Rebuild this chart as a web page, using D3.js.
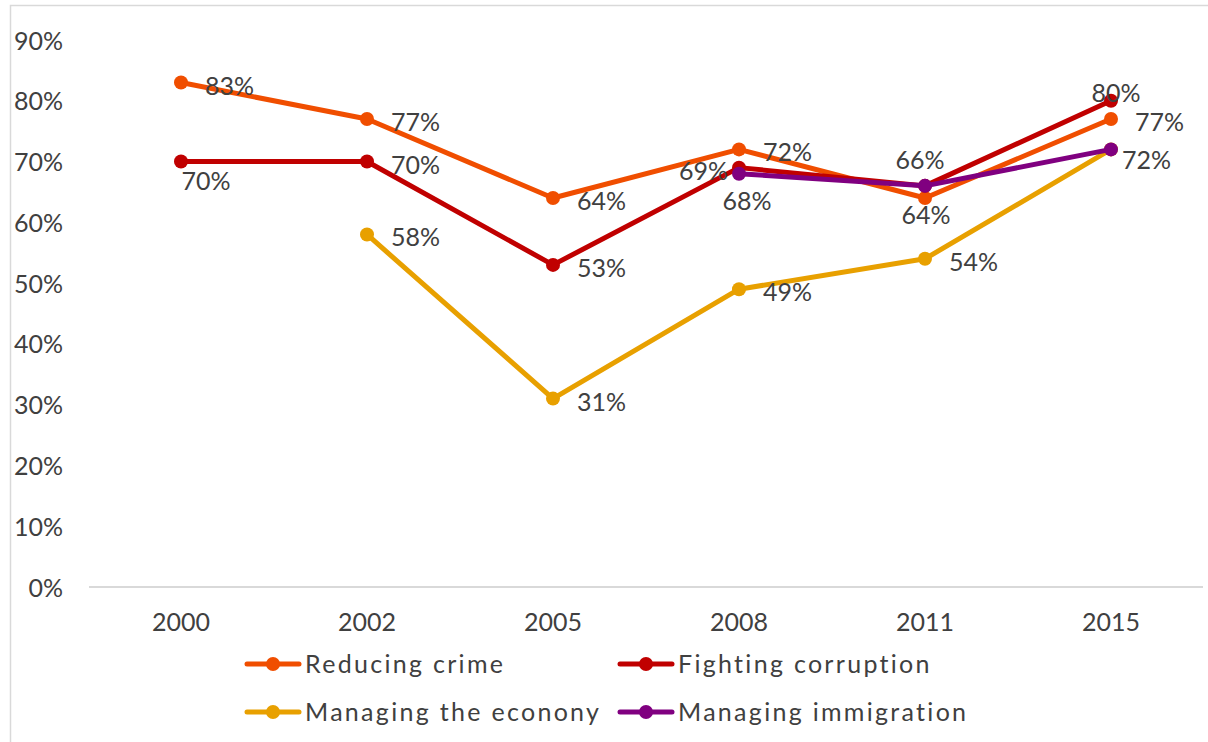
<!DOCTYPE html>
<html>
<head>
<meta charset="utf-8">
<script src="https://cdn.jsdelivr.net/npm/d3@7/dist/d3.min.js"></script>
<style>
  html, body { margin: 0; padding: 0; background: #fff; }
  svg { display: block; }
  text { font-family: Lato, "Open Sans", sans-serif; fill: #404040; }
</style>
</head>
<body>
<svg id="chart" width="1208" height="742"></svg>
<script>
// Survey years
const years = ["2000", "2002", "2005", "2008", "2011", "2015"];

// Share of respondents rating each area positively (%), null = not asked
const reducingCrime      = [83, 77, 64, 72, 64, 77];
const fightingCorruption = [70, 70, 53, 69, 66, 80];
const managingEconomy    = [null, 58, 31, 49, 54, 72];
const managingImmigration = [null, null, null, 68, 66, 72];

// Y axis ticks (%)
const yTicks = [0, 10, 20, 30, 40, 50, 60, 70, 80, 90];

// Series names shown in the legend
const seriesNames = ["Reducing crime", "Fighting corruption", "Managing the econony", "Managing immigration"];

// Where each value label sits relative to its point
// (the 2015 economy and immigration labels share one spot)
const labelPlacement = {
  "Reducing crime":       ["right", "right", "right", "right", "belowMid", "right"],
  "Fighting corruption":  ["belowRight", "right", "right", "left", "aboveMid", "aboveTop"],
  "Managing the econony": [null, "right", "right", "right", "right", "none"],
  "Managing immigration": [null, null, null, "belowLow", "none", "rightLow"]
};
const placementOffsets = {
  right:      { dx: 24,  dy: 12, anchor: "start" },
  left:       { dx: -11, dy: 12, anchor: "end" },
  belowRight: { dx: 25,  dy: 28, anchor: "middle" },
  belowMid:   { dx: 1,   dy: 26, anchor: "middle" },
  belowLow:   { dx: 8,   dy: 36, anchor: "middle" },
  aboveMid:   { dx: -5,  dy: -17, anchor: "middle" },
  aboveTop:   { dx: 5,   dy: 1,  anchor: "middle" },
  rightLow:   { dx: 11,  dy: 20, anchor: "start" }
};

const colors = {
  "Reducing crime": "#F04E00",
  "Fighting corruption": "#C00000",
  "Managing the econony": "#E8A000",
  "Managing immigration": "#800080"
};

const series = [
  { name: seriesNames[0], values: reducingCrime },
  { name: seriesNames[1], values: fightingCorruption },
  { name: seriesNames[2], values: managingEconomy },
  { name: seriesNames[3], values: managingImmigration }
];

const svg = d3.select("#chart");
const W = 1208, H = 742;

// Chart frame
svg.append("rect")
  .attr("x", 10.5).attr("y", 5.5)
  .attr("width", W + 20).attr("height", H + 20)
  .attr("fill", "#fff").attr("stroke", "#d9d9d9").attr("stroke-width", 1.5);

const plot = { left: 88, right: 1204, top: 40, bottom: 587 };

const x = d3.scaleBand().domain(years).range([plot.left, plot.right]).padding(0);
const y = d3.scaleLinear().domain([0, 90]).range([plot.bottom, plot.top]);

// Y axis labels
const yAxis = d3.axisLeft(y).tickValues(yTicks).tickFormat(d => d + "%").tickSize(0).tickPadding(0);
const yg = svg.append("g").attr("transform", "translate(63,0)").call(yAxis);
yg.select(".domain").remove();
yg.selectAll("text").attr("font-size", 25).attr("font-family", "Lato, sans-serif")
  .attr("fill", "#404040").attr("dy", "0.36em");

// X axis with category labels
const xAxis = d3.axisBottom(x).tickSize(0).tickPadding(0);
const xg = svg.append("g").attr("transform", `translate(0,${plot.bottom})`).call(xAxis);
xg.select(".domain").attr("stroke", "#d9d9d9").attr("stroke-width", 2)
  .attr("d", `M${plot.left + 1},0H${plot.right - 1}`);
xg.selectAll("text").attr("font-size", 25).attr("font-family", "Lato, sans-serif")
  .attr("fill", "#404040").attr("dy", 0).attr("y", 44);

const cx = i => x(years[i]) + x.bandwidth() / 2;

const line = d3.line()
  .defined(d => d.v !== null)
  .x(d => cx(d.i))
  .y(d => y(d.v));

const drawOrder = [2, 0, 1, 3];

drawOrder.forEach(k => {
  const s = series[k];
  const pts = s.values.map((v, i) => ({ v, i }));
  const g = svg.append("g");
  g.append("path")
    .datum(pts)
    .attr("d", line)
    .attr("fill", "none")
    .attr("stroke", colors[s.name])
    .attr("stroke-width", 5)
    .attr("stroke-linejoin", "round")
    .attr("stroke-linecap", "round");
  g.selectAll("circle")
    .data(pts.filter(d => d.v !== null))
    .join("circle")
    .attr("cx", d => cx(d.i))
    .attr("cy", d => y(d.v))
    .attr("r", 7)
    .attr("fill", colors[s.name]);
});

// Value labels
const labels = svg.append("g");
series.forEach(s => {
  s.values.forEach((v, i) => {
    const p = labelPlacement[s.name][i];
    if (v === null || !p || p === "none") return;
    const o = placementOffsets[p];
    labels.append("text")
      .attr("x", cx(i) + o.dx)
      .attr("y", y(v) + o.dy)
      .attr("text-anchor", o.anchor)
      .attr("font-size", 25)
      .text(v + "%");
  });
});

// Legend
const legendItems = [
  { name: seriesNames[0], x: 245, y: 664 },
  { name: seriesNames[1], x: 618, y: 664 },
  { name: seriesNames[2], x: 245, y: 712 },
  { name: seriesNames[3], x: 618, y: 712 }
];
const lg = svg.append("g");
legendItems.forEach(it => {
  const g = lg.append("g").attr("transform", `translate(${it.x},${it.y})`);
  g.append("line").attr("x1", 2).attr("x2", 54).attr("y1", 0).attr("y2", 0)
    .attr("stroke", colors[it.name]).attr("stroke-width", 5).attr("stroke-linecap", "round");
  g.append("circle").attr("cx", 28).attr("cy", 0).attr("r", 7).attr("fill", colors[it.name]);
  g.append("text").attr("x", 60).attr("y", 9).attr("font-size", 25)
    .attr("letter-spacing", 2.3).text(it.name);
});
</script>
</body>
</html>
